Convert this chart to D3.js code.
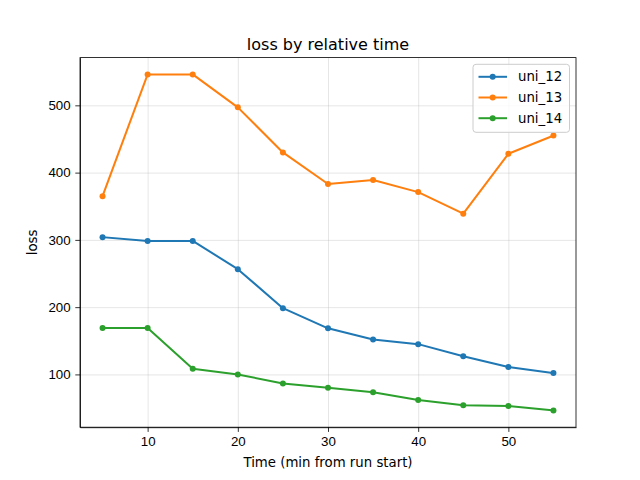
<!DOCTYPE html>
<html>
<head>
<meta charset="utf-8">
<script src="https://cdn.jsdelivr.net/npm/d3@7"></script>
<style>
  body { margin: 0; background: #fff; }
  svg { font-family: "DejaVu Sans", sans-serif; }
  .grid line { stroke: #b0b0b0; stroke-opacity: 0.4; stroke-width: 0.8; }
  .grid .domain { display: none; }
  .axis text { font-size: 13.3px; fill: #000; }
  .axis line, .axis path { stroke: #000; stroke-width: 0.8; }
</style>
</head>
<body>
<div class="chart"></div>
<script>
// minutes from run start
const minutes = [5, 10, 15, 20, 25, 30, 35, 40, 45, 50, 55]
const uni12 = [304, 298.5, 298.5, 256.5, 198.5, 168.5, 152, 145, 127, 111, 102]
const uni13 = [365, 546, 546, 497, 430, 383, 389, 371, 339, 428, 455]
const uni14 = [169, 169, 108.5, 100, 86.5, 80, 73.5, 62, 54, 53, 46.5]
const seriesNames = ["uni_12", "uni_13", "uni_14"]
const colors = ["#1f77b4", "#ff7f0e", "#2ca02c"]
const xTicks = [10, 20, 30, 40, 50]
const yTicks = [100, 200, 300, 400, 500]

const series = [uni12, uni13, uni14].map((vals, i) => ({
  name: seriesNames[i],
  color: colors[i],
  points: vals.map((v, j) => ({ t: minutes[j], loss: v }))
}))

// matplotlib default figure layout
var margin = {top: 57.6, right: 64, bottom: 52.8, left: 80},
    width = 640 - margin.left - margin.right,
    height = 480 - margin.top - margin.bottom

const allVals = [...uni12, ...uni13, ...uni14]
const yMin = d3.min(allVals), yMax = d3.max(allVals)
const yPad = (yMax - yMin) * 0.05
const xPad = (d3.max(minutes) - d3.min(minutes)) * 0.05

var x = d3.scaleLinear()
    .domain([d3.min(minutes) - xPad, d3.max(minutes) + xPad])
    .range([0, width])
var y = d3.scaleLinear()
    .domain([yMin - yPad, yMax + yPad])
    .range([height, 0])

const svg = d3.select(".chart").append("svg")
    .attr("width", 640)
    .attr("height", 480)
const g = svg.append("g")
    .attr("transform", "translate(" + margin.left + "," + margin.top + ")")

// gridlines
g.append("g")
    .attr("class", "grid")
    .attr("transform", "translate(0," + height + ")")
    .call(d3.axisBottom(x).tickValues(xTicks).tickSize(-height).tickFormat(""))
g.append("g")
    .attr("class", "grid")
    .call(d3.axisLeft(y).tickValues(yTicks).tickSize(-width).tickFormat(""))

// lines + markers
const line = d3.line()
    .x(d => x(d.t))
    .y(d => y(d.loss))

const fam = g.selectAll("g.family")
    .data(series)
  .enter().append("g")
    .attr("class", "family")

fam.append("path")
    .attr("d", d => line(d.points))
    .attr("fill", "none")
    .attr("stroke", d => d.color)
    .attr("stroke-width", 2)
    .attr("stroke-linejoin", "round")
    .attr("stroke-linecap", "square")

fam.selectAll(".dot")
    .data(d => d.points.map(p => ({ ...p, color: d.color })))
  .enter().append("circle")
    .attr("class", "dot")
    .attr("cx", d => x(d.t))
    .attr("cy", d => y(d.loss))
    .attr("r", 3)
    .attr("fill", d => d.color)

// axes
g.append("g")
    .attr("class", "axis")
    .attr("transform", "translate(0," + height + ")")
    .call(d3.axisBottom(x).tickValues(xTicks).tickSize(4.7).tickPadding(4.7).tickSizeOuter(0))
g.append("g")
    .attr("class", "axis")
    .call(d3.axisLeft(y).tickValues(yTicks).tickSize(4.7).tickPadding(4.7).tickSizeOuter(0))

// frame
g.append("rect")
    .attr("width", width)
    .attr("height", height)
    .attr("fill", "none")
    .attr("stroke", "#000")
    .attr("stroke-width", 0.8)

// labels
svg.append("text")
    .text("loss by relative time")
    .attr("x", margin.left + width / 2)
    .attr("y", margin.top - 8)
    .attr("text-anchor", "middle")
    .attr("font-size", 16)
svg.append("text")
    .text("Time (min from run start)")
    .attr("x", margin.left + width / 2)
    .attr("y", 466.5)
    .attr("text-anchor", "middle")
    .attr("font-size", 13.3)
svg.append("text")
    .text("loss")
    .attr("text-anchor", "middle")
    .attr("font-size", 13.3)
    .attr("transform", "translate(36.5," + (margin.top + height / 2) + ") rotate(-90)")

// legend
const lg = g.append("g")
    .attr("transform", "translate(" + (width - 103) + ",6.7)")
lg.append("rect")
    .attr("width", 96.5)
    .attr("height", 68)
    .attr("rx", 3)
    .attr("fill", "#fff")
    .attr("fill-opacity", 0.8)
    .attr("stroke", "#cccccc")
    .attr("stroke-width", 1)
const item = lg.selectAll("g.item")
    .data(series)
  .enter().append("g")
    .attr("class", "item")
    .attr("transform", (d, i) => "translate(0," + (12.5 + i * 20.7) + ")")
item.append("line")
    .attr("x1", 5.5).attr("x2", 34)
    .attr("stroke", d => d.color)
    .attr("stroke-width", 2)
item.append("circle")
    .attr("cx", 19.7)
    .attr("r", 3)
    .attr("fill", d => d.color)
item.append("text")
    .text(d => d.name)
    .attr("x", 45)
    .attr("dy", "0.35em")
    .attr("font-size", 13.3)
</script>
</body>
</html>
